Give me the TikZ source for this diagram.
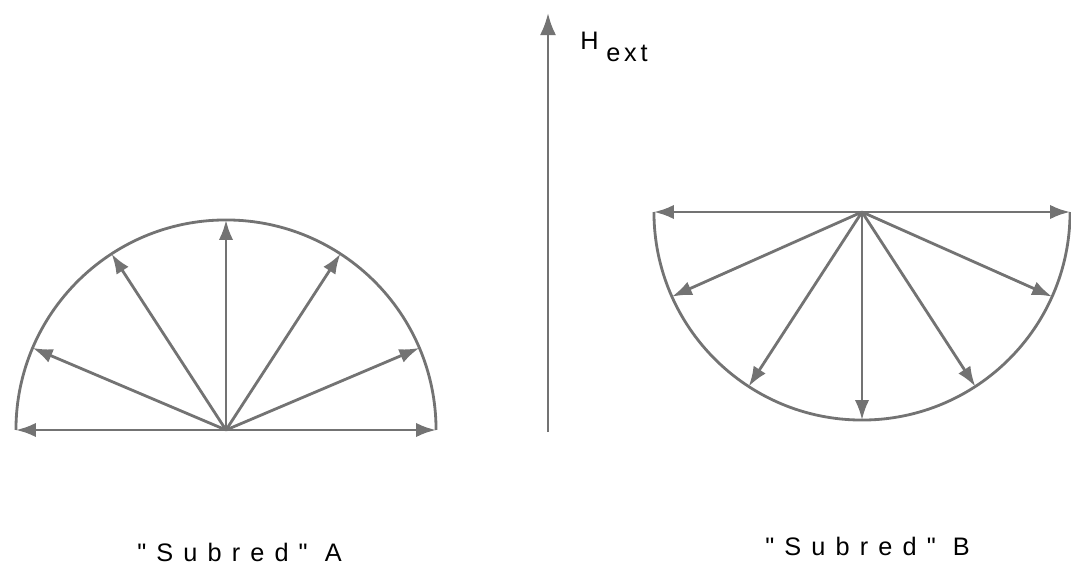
\documentclass[tikz,border=0pt]{standalone}
\usepackage{fontspec}
\setmainfont{Liberation Sans}
\newfontfamily\spacedfont[LetterSpace=40]{Liberation Sans}
\newfontfamily\extfont[LetterSpace=15]{Liberation Sans}
\usetikzlibrary{arrows.meta}
\tikzset{
  fieldarrow/.style={-{Latex[length=5.5mm, width=4mm]}, line width=2pt, draw=black!55},
  momarrow/.style={-{Latex[length=5mm, width=3.6mm]}, line width=2pt, draw=black!55},
  rimline/.style={line width=2pt, draw=black!55},
  sublabel/.style={anchor=base west, inner sep=0pt, font=\spacedfont\fontsize{18}{20}\selectfont},
  hlabel/.style={anchor=base west, inner sep=0pt, font=\fontsize{18}{20}\selectfont}
}
\begin{document}
\begin{tikzpicture}[x=0.025cm, y=0.025cm]
  \useasboundingbox (0,0) rectangle (1071,567);
  % subnet A: upper half
  \coordinate (cA) at (226,137);
  \draw[rimline] (cA) ++(180:5.25cm) arc[start angle=180, end angle=0, radius=5.25cm];
  \foreach \a [count=\i] in {0,23,57,90,123,157,180} {
    \coordinate (tA\i) at ([shift={(\a:5.25cm)}]cA);
    \draw[momarrow] (cA) -- (tA\i);
  }
  % subnet B: lower half
  \coordinate (cB) at (862,355);
  \draw[rimline] (cB) ++(180:5.2cm) arc[start angle=180, end angle=360, radius=5.2cm];
  \foreach \a [count=\i] in {0,-24,-57,-90,-123,-156,180} {
    \coordinate (tB\i) at ([shift={(\a:5.2cm)}]cB);
    \draw[momarrow] (cB) -- (tB\i);
  }
  % external field
  \coordinate (hbot) at (548,135);
  \coordinate (htop) at (548,554);
  \draw[fieldarrow] (hbot) -- (htop);
  \node[hlabel] (hlab) at (580,517) {H};
  \node[hlabel, font=\extfont\fontsize{18}{20}\selectfont] (hsub) at (606,505) {ext};
  % labels
  \node[sublabel] (labA) at (137,6) {"Subred" A};
  \node[sublabel] (labB) at (765,12) {"Subred" B};
\end{tikzpicture}
\end{document}
